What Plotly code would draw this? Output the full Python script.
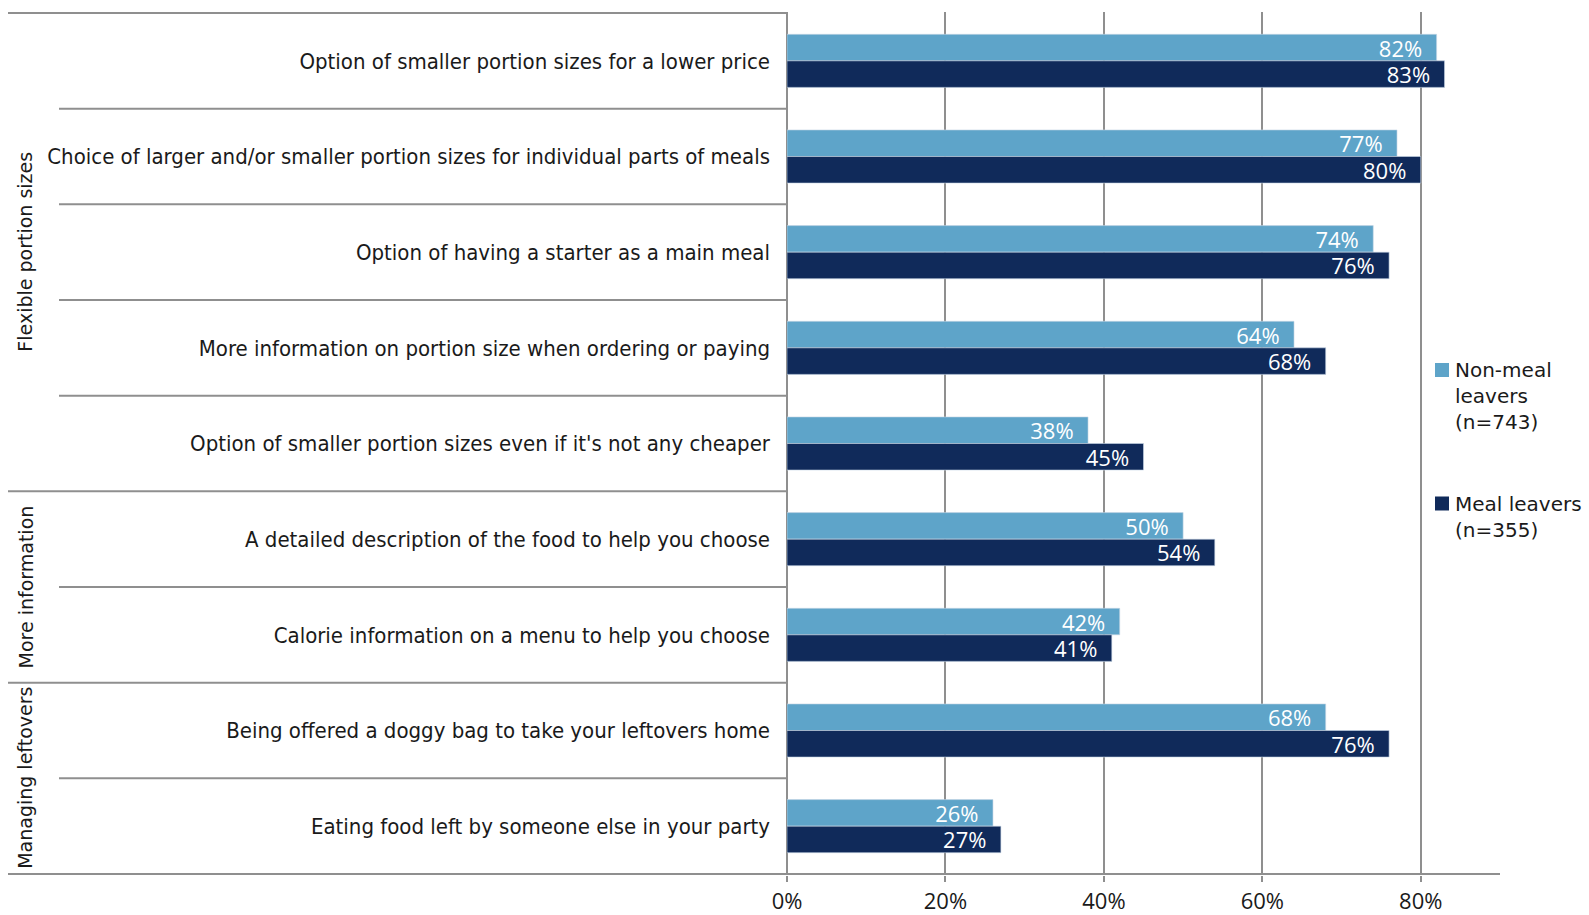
import plotly.graph_objects as go

# Survey items, top to bottom
categories = [
    "Option of smaller portion sizes for a lower price",
    "Choice of larger and/or smaller portion sizes for individual parts of meals",
    "Option of having a starter as a main meal",
    "More information on portion size when ordering or paying",
    "Option of smaller portion sizes even if it's not any cheaper",
    "A detailed description of the food to help you choose",
    "Calorie information on a menu to help you choose",
    "Being offered a doggy bag to take your leftovers home",
    "Eating food left by someone else in your party",
]
non_meal_leavers = [82, 77, 74, 64, 38, 50, 42, 68, 26]
meal_leavers = [83, 80, 76, 68, 45, 54, 41, 76, 27]

series_names = ["Non-meal<br>leavers<br>(n=743)", "Meal leavers<br>(n=355)"]

# Group headings and the item index range each covers
groups = ["Flexible portion sizes", "More information", "Managing leftovers"]
group_ranges = [(0, 4), (5, 6), (7, 8)]

x_ticks = [0, 20, 40, 60, 80]
x_tick_labels = ["0%", "20%", "40%", "60%", "80%"]

LIGHT = "#5ea4c9"
DARK = "#102a5a"
GRID = "#8f8f8f"
TEXT = "#1a1a1a"
COLORS = [LIGHT, DARK]

W, H = 1589, 915
ML, MR, MT, MB = 787, 89, 12, 40
PW, PH = W - ML - MR, H - MT - MB


def px_x(x):
    """Pixel column -> paper x."""
    return (x - ML) / PW


def px_y(y):
    """Pixel row -> paper y."""
    return (H - MB - y) / PH


fig = go.Figure()
for name, vals, color in zip(series_names, [non_meal_leavers, meal_leavers], COLORS):
    fig.add_trace(go.Bar(
        y=categories,
        x=vals,
        orientation="h",
        name=name,
        marker=dict(color=color, line=dict(color="rgba(200,215,230,0.6)", width=1)),
        text=[f"{v}%\u00a0\u00a0" for v in vals],
        textposition="inside",
        insidetextanchor="end",
        constraintext="none",
        textangle=0,
        textfont=dict(color="white", size=22, family="Open Sans"),
        cliponaxis=False,
    ))

x_item_line = px_x(59)
x_group_line = px_x(8)
x_group_label = px_x(25.5)

shapes = []
group_edges = {r[0] for r in group_ranges}
for i in range(1, len(categories)):
    x0 = x_group_line if i in group_edges else x_item_line
    shapes.append(dict(type="line", xref="paper", yref="y", x0=x0, x1=0,
                       y0=i - 0.5, y1=i - 0.5, line=dict(color=GRID, width=2)))
# top and bottom rules
shapes.append(dict(type="line", xref="paper", yref="y", x0=x_group_line, x1=0,
                   y0=-0.5, y1=-0.5, line=dict(color=GRID, width=2)))
shapes.append(dict(type="line", xref="paper", yref="y", x0=x_group_line, x1=1,
                   y0=len(categories) - 0.5, y1=len(categories) - 0.5,
                   line=dict(color=GRID, width=2)))

annotations = []
for g, (a, b) in zip(groups, group_ranges):
    annotations.append(dict(
        text=g, xref="paper", yref="y", x=x_group_label, y=(a + b) / 2,
        textangle=-90, showarrow=False, xanchor="center", yanchor="middle",
        font=dict(family="DejaVu Sans", size=19, color=TEXT),
    ))

# Legend: colour keys with wrapped series names
legend_rows = [370, 503.5]
for name, color, yc in zip(series_names, COLORS, legend_rows):
    shapes.append(dict(type="rect", xref="paper", yref="paper",
                       x0=px_x(1435), x1=px_x(1449), y0=px_y(yc + 7), y1=px_y(yc - 7),
                       fillcolor=color, line=dict(width=0)))
    annotations.append(dict(
        text=name, xref="paper", yref="paper", x=px_x(1453), y=px_y(yc - 14),
        xanchor="left", yanchor="top", align="left", showarrow=False,
        font=dict(family="DejaVu Sans", size=20, color=TEXT),
    ))

fig.update_layout(
    width=W, height=H,
    margin=dict(l=ML, r=MR, t=MT, b=MB),
    paper_bgcolor="white", plot_bgcolor="white",
    barmode="group", bargap=0.445, bargroupgap=0,
    shapes=shapes, annotations=annotations,
    showlegend=False,
)
fig.update_xaxes(
    range=[0, 90], tickvals=x_ticks, ticktext=x_tick_labels,
    showgrid=True, gridcolor=GRID, gridwidth=2,
    ticks="outside", ticklen=6, tickcolor=GRID, tickwidth=2,
    ticklabelstandoff=1, automargin=False,
    showline=False, zeroline=True, zerolinecolor=GRID, zerolinewidth=2,
    tickfont=dict(family="Open Sans", size=22, color=TEXT),
    fixedrange=True,
)
fig.update_yaxes(
    autorange="reversed", showgrid=False, showline=False, ticks="",
    ticklabelstandoff=16, automargin=False,
    tickfont=dict(family="DejaVu Sans Condensed", size=22, color=TEXT),
    fixedrange=True,
)

fig.write_html("out.html")
